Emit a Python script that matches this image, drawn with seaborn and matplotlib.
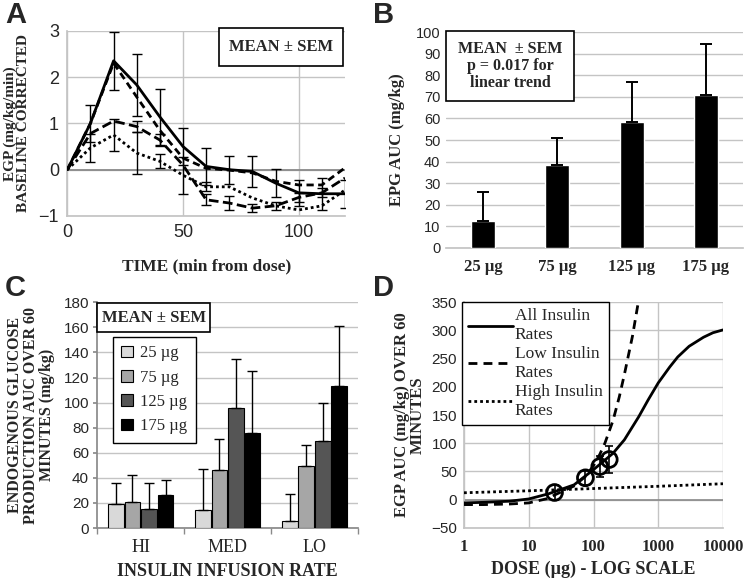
import numpy as np
import pandas as pd
import matplotlib
matplotlib.use("Agg")
import matplotlib.pyplot as plt
import seaborn as sns
from matplotlib.patches import Rectangle
from matplotlib.lines import Line2D

# ---------------- Panel A data ----------------
times = [0, 10, 20, 30, 40, 50, 60, 70, 80, 90, 100, 110, 120]
egp_25 = [0, 0.47, 0.75, 0.36, 0.18, -0.12, -0.37, -0.37, -0.61, -0.78, -0.87, -0.78, -0.44]
egp_75 = [0, 0.78, 1.05, 0.93, 0.64, 0.10, -0.65, -0.72, -0.83, -0.78, -0.60, -0.50, -0.18]
egp_125 = [0, 1.00, 2.30, 1.57, 0.85, 0.25, 0.03, -0.01, -0.07, -0.25, -0.33, -0.33, 0.04]
egp_175 = [0, 1.00, 2.35, 1.83, 1.14, 0.50, 0.07, 0.00, -0.04, -0.29, -0.50, -0.52, -0.52]
sem_25 = [0, 0.30, 0.35, 0.45, 0.15, 0.40, 0.10, 0, 0, 0, 0, 0, 0]
sem_75 = [0, 0, 0, 0.12, 0.12, 0, 0.12, 0.15, 0.08, 0.08, 0.10, 0.10, 0]
sem_175 = [0, 0.40, 0.62, 0.67, 0.60, 0.40, 0.40, 0.30, 0.33, 0.31, 0.28, 0.35, 0.30]

# ---------------- Panel B data ----------------
dose_labels = ["25 µg", "75 µg", "125 µg", "175 µg"]
auc_mean = [12.5, 38.5, 58.5, 71.0]
auc_sem = [13.5, 12.5, 18.5, 23.5]

# ---------------- Panel C data ----------------
rates = ["HI", "MED", "LO"]
c_25 = [19.0, 14.5, 5.5]
c_75 = [20.5, 46.0, 49.5]
c_125 = [15.5, 96.0, 69.0]
c_175 = [26.0, 75.5, 113.0]
c_25_sem = [17.0, 32.5, 21.5]
c_75_sem = [21.5, 25.0, 17.0]
c_125_sem = [20.0, 39.0, 30.5]
c_175_sem = [12.0, 50.0, 48.0]

# ---------------- Panel D data ----------------
dose_all = [1, 2, 5, 10, 20, 50, 100, 200, 300, 500, 700, 1000, 1500, 2000, 3000, 5000, 7000, 10000]
fit_all = [-6, -5, -3, 1, 10, 26, 53, 82, 106, 147, 177, 207, 235, 253, 272, 288, 296, 301]
dose_low = [1, 2, 5, 10, 20, 25, 50, 75, 100, 125, 150, 200, 250, 300, 400, 500]
fit_low = [-9, -9, -8, -6, 2, 8, 24, 41, 60, 80, 100, 140, 182, 222, 290, 355]
dose_high = [1, 10, 100, 1000, 10000]
fit_high = [12, 15.5, 19.5, 23.5, 28]
obs_dose = [25, 75, 125, 175]

# ---------------- style ----------------
sns.set_theme(style="white")
plt.rcParams["font.family"] = ["Liberation Sans", "DejaVu Sans"]
SERIF = ["Liberation Serif", "DejaVu Serif"]
GRID = "#c4c4c4"

fig = plt.figure(figsize=(7.45, 5.81), dpi=100)
W, H = 745.0, 581.0

def add_axes_px(x0, y0, x1, y1):
    return fig.add_axes([x0 / W, 1 - y1 / H, (x1 - x0) / W, (y1 - y0) / H])

def box_text(ax, x0, y0, x1, y1, text, size):
    ax.add_patch(Rectangle((x0, y0), x1 - x0, y1 - y0, transform=ax.transAxes,
                           fc="white", ec="black", lw=1.2, clip_on=False, zorder=5))
    ax.text((x0 + x1) / 2, (y0 + y1) / 2, text, transform=ax.transAxes, ha="center",
            va="center", family=SERIF, weight="bold", size=size, zorder=6,
            linespacing=1.05)

def letter(x, y, s):
    fig.text(x / W, 1 - y / H, s, family=["Liberation Sans"], weight="bold",
             size=21, va="top", ha="left")

# ================= Panel A =================
axA = add_axes_px(67.3, 30.7, 345, 216)
nA = len(times)
dfA = pd.DataFrame({
    "time": times * 4,
    "egp": egp_25 + egp_75 + egp_125 + egp_175,
    "dose": ["25 µg"] * nA + ["75 µg"] * nA + ["125 µg"] * nA + ["175 µg"] * nA,
})
sns.lineplot(data=dfA, x="time", y="egp", style="dose",
             dashes={"25 µg": (1, 1.1), "75 µg": (3.5, 1.6), "125 µg": (2.6, 1.6), "175 µg": ""},
             color="black", lw=2.0, legend=False, ax=axA, estimator=None, zorder=3)
for vals, sems in [(egp_25, sem_25), (egp_75, sem_75), (egp_175, sem_175)]:
    t = np.array(times); v = np.array(vals); s = np.array(sems)
    m = s > 0
    axA.errorbar(t[m], v[m], yerr=s[m], fmt="none", ecolor="black", elinewidth=1.0,
                 capsize=3.5, capthick=1.0, zorder=4)
axA.set_xlim(0, 120)
axA.set_ylim(-1, 3)
axA.set_xticks([0, 50, 100])
axA.set_yticks([-1, 0, 1, 2, 3])
axA.grid(True, color=GRID, lw=1)
axA.axhline(0, color="#8a8a8a", lw=1.3, zorder=2)
for sp in ["top", "right"]:
    axA.spines[sp].set_visible(False)
for sp in ["left", "bottom"]:
    axA.spines[sp].set_color(GRID)
axA.tick_params(length=0, labelsize=13, pad=6)
axA.set_xlabel("TIME (min from dose)", family=SERIF, weight="bold", size=12.5, labelpad=12)
axA.set_ylabel("EGP (mg/kg/min)\nBASELINE CORRECTED", family=SERIF, weight="bold",
               size=11, labelpad=6, linespacing=1.05)
box_text(axA, 0.548, 0.81, 0.993, 1.015, "MEAN ± SEM", 12)

# ================= Panel B =================
axB = add_axes_px(446, 32.3, 743, 247.7)
sns.barplot(x=dose_labels, y=auc_mean, color="black", width=0.32, saturation=1,
            errorbar=None, ax=axB, zorder=3)
axB.errorbar(np.arange(4), auc_mean, yerr=[np.zeros(4), auc_sem], fmt="none",
             ecolor="black", elinewidth=1.4, capsize=4.5, capthick=1.4, zorder=4)
axB.set_ylim(0, 100)
axB.set_xlim(-0.5, 3.5)
axB.set_yticks(range(0, 101, 10))
axB.yaxis.grid(True, color=GRID, lw=1)
axB.set_axisbelow(True)
for sp in ["top", "right", "left"]:
    axB.spines[sp].set_visible(False)
axB.spines["bottom"].set_color(GRID)
axB.tick_params(length=0, labelsize=10.5, pad=4)
axB.tick_params(axis="x", pad=8)
for lab in axB.get_xticklabels():
    lab.set_family(SERIF); lab.set_weight("bold"); lab.set_size(12)
axB.set_ylabel("EPG AUC (mg/kg)", family=SERIF, weight="bold", size=12, labelpad=8)
axB.set_xlabel("")
box_text(axB, 0.0, 0.681, 0.431, 1.006, "MEAN  ± SEM\np = 0.017 for\nlinear trend", 11.5)

# ================= Panel C =================
axC = add_axes_px(97.3, 302.3, 358, 528)
c_doses = ["25 µg", "75 µg", "125 µg", "175 µg"]
dfC = pd.DataFrame({
    "rate": rates * 4,
    "value": c_25 + c_75 + c_125 + c_175,
    "dose": [d for d in c_doses for _ in rates],
})
semC = [c_25_sem, c_75_sem, c_125_sem, c_175_sem]
sns.barplot(data=dfC, x="rate", y="value", hue="dose", hue_order=c_doses,
            palette=["#d9d9d9", "#a6a6a6", "#555555", "#000000"], edgecolor="black",
            linewidth=0.8, width=0.76, gap=0.05, saturation=1, errorbar=None,
            ax=axC, zorder=3)
for cont, sems, vals in zip(axC.containers, semC, [c_25, c_75, c_125, c_175]):
    xs = [b.get_x() + b.get_width() / 2 for b in cont]
    axC.errorbar(xs, vals, yerr=[np.zeros(3), sems], fmt="none", ecolor="black",
                 elinewidth=1.0, capsize=3.5, capthick=1.0, zorder=4)
axC.set_ylim(0, 180)
axC.set_xlim(-0.5, 2.5)
axC.set_yticks(range(0, 181, 20))
axC.yaxis.grid(True, color=GRID, lw=1)
axC.set_axisbelow(True)
for sp in ["top", "right"]:
    axC.spines[sp].set_visible(False)
for sp in ["left", "bottom"]:
    axC.spines[sp].set_color("#8a8a8a")
axC.tick_params(axis="y", length=3, color="#8a8a8a", labelsize=11, pad=3, left=True)
axC.tick_params(axis="x", length=0, pad=8)
axC.set_xticks([-0.5, 0.5, 1.5, 2.5], minor=True)
axC.tick_params(axis="x", which="minor", length=4, color="#8a8a8a", bottom=True)
for lab in axC.get_xticklabels():
    lab.set_family(SERIF); lab.set_size(13)
axC.set_xlabel("INSULIN INFUSION RATE", family=SERIF, weight="bold", size=13, labelpad=5)
axC.set_ylabel("ENDOGENOUS GLUCOSE\nPRODUCTION AUC OVER 60\nMINUTES (mg/kg)",
               family=SERIF, weight="bold", size=11.5, labelpad=6, linespacing=1.0)
handles, labels = axC.get_legend_handles_labels()
legC = axC.legend(handles, labels, loc="upper left", bbox_to_anchor=(0.06, 0.846),
                  frameon=True, fancybox=False, edgecolor="black", framealpha=1,
                  prop={"family": SERIF, "size": 12}, handlelength=0.7,
                  handleheight=0.7, handletextpad=0.45, labelspacing=0.5,
                  borderpad=0.5, borderaxespad=0)
legC.get_frame().set_linewidth(1.0)
box_text(axC, 0.0, 0.868, 0.433, 0.997, "MEAN ± SEM", 12)

# ================= Panel D =================
axD = add_axes_px(464, 302.3, 723, 527.7)
dfD = pd.DataFrame({
    "dose": dose_all + dose_low + dose_high,
    "egp": fit_all + fit_low + fit_high,
    "fit": ["All"] * len(dose_all) + ["Low"] * len(dose_low) + ["High"] * len(dose_high),
})
sns.lineplot(data=dfD, x="dose", y="egp", style="fit",
             dashes={"All": "", "Low": (3.2, 2.2), "High": (1, 1.1)},
             color="black", lw=2.0, legend=False, ax=axD, estimator=None, zorder=3)
axD.set_xscale("log")
axD.errorbar(obs_dose, auc_mean, yerr=auc_sem, fmt="none", ecolor="black",
             elinewidth=1.2, capsize=3, capthick=1.2, zorder=4)
sns.scatterplot(x=obs_dose, y=auc_mean, s=130, facecolors="none", edgecolor="black",
                linewidth=2.0, ax=axD, zorder=5)
axD.set_xlim(1, 10000)
axD.set_ylim(-50, 350)
axD.set_xticks([1, 10, 100, 1000, 10000])
axD.set_xticklabels(["1", "10", "100", "1000", "10000"])
axD.minorticks_off()
axD.set_yticks(range(-50, 351, 50))
axD.grid(True, color=GRID, lw=1)
axD.axhline(0, color="#8a8a8a", lw=1.2, zorder=2)
for sp in ["top", "right"]:
    axD.spines[sp].set_visible(False)
for sp in ["left", "bottom"]:
    axD.spines[sp].set_color(GRID)
axD.tick_params(length=0, labelsize=11, pad=5)
axD.tick_params(axis="x", pad=8)
for lab in axD.get_xticklabels():
    lab.set_family(SERIF); lab.set_weight("bold"); lab.set_size(12)
axD.set_xlabel("DOSE (µg) - LOG SCALE", family=SERIF, weight="bold", size=13, labelpad=4)
axD.set_ylabel("EGP AUC (mg/kg) OVER 60\nMINUTES", family=SERIF, weight="bold",
               size=12, labelpad=4, linespacing=1.0)
hD = [Line2D([], [], color="black", lw=2.0),
      Line2D([], [], color="black", lw=2.0, dashes=(3.2, 2.2)),
      Line2D([], [], color="black", lw=2.0, dashes=(1, 1.1))]
legD = axD.legend(hD, ["All Insulin\nRates", "Low Insulin\nRates", "High Insulin\nRates"],
                  loc="upper left", bbox_to_anchor=(-0.008, 1.0), frameon=True,
                  fancybox=False, edgecolor="black", framealpha=1,
                  prop={"family": SERIF, "size": 12.5}, handlelength=2.6,
                  handletextpad=0.1, labelspacing=0.2, borderpad=0.35, borderaxespad=0)
legD.get_frame().set_linewidth(1.0)
legD.set_zorder(6)

# panel letters
letter(5, 1, "A")
letter(373, 1, "B")
letter(5, 274, "C")
letter(373, 274, "D")

fig.savefig("out.png", dpi=100)
